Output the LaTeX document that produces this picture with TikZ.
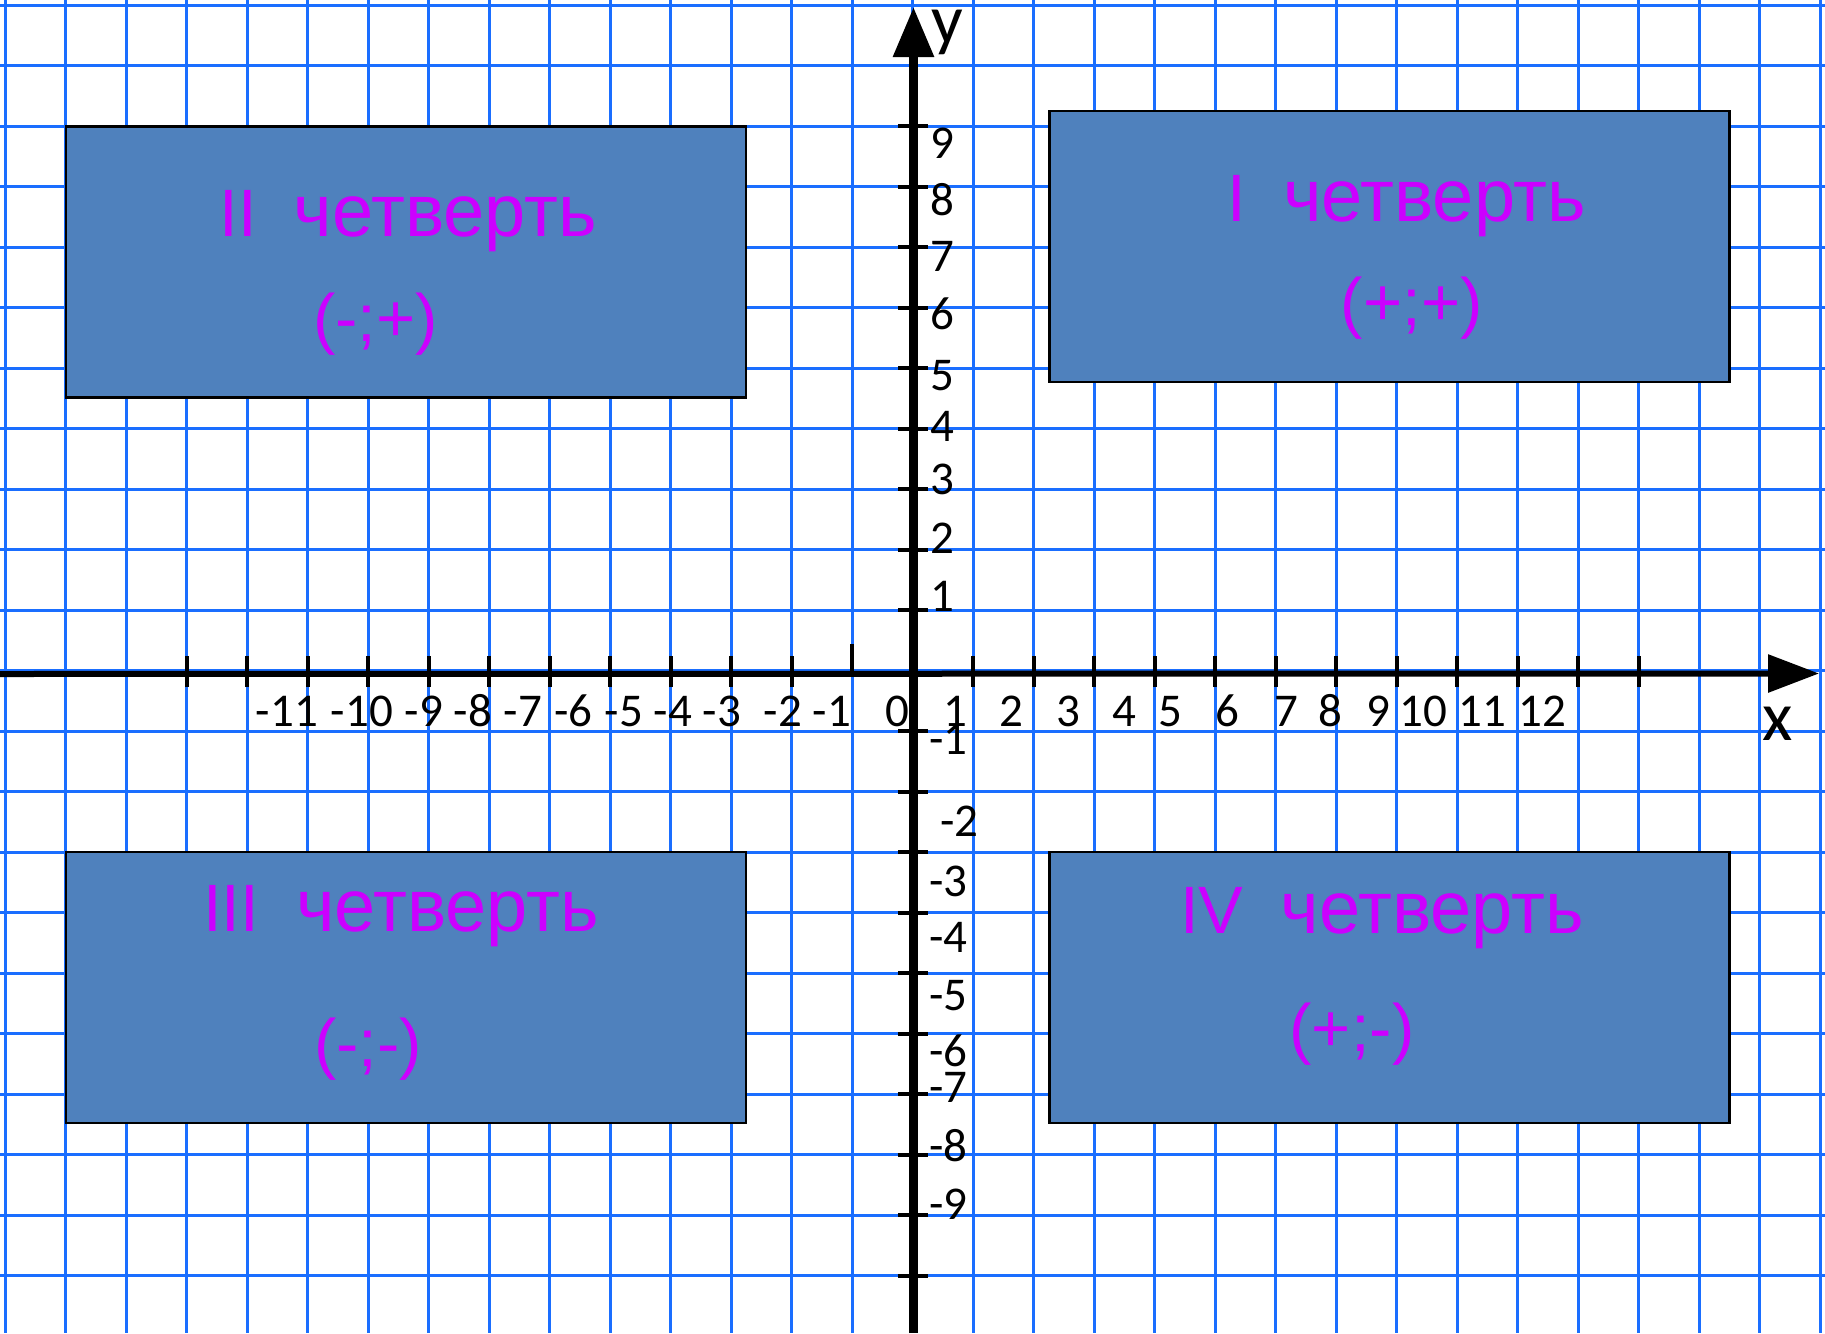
\documentclass[tikz,border=0pt]{standalone}
\usepackage{fontspec}
\usetikzlibrary{arrows.meta}
\newfontfamily\calib{Carlito}
\newfontfamily\arialf{Liberation Sans}
\definecolor{gridblue}{RGB}{26,110,255}
\definecolor{boxblue}{RGB}{79,129,189}
\definecolor{txtmag}{RGB}{204,0,255}
\newcommand{\qword}{{\fontsize{74}{80}\selectfont четверть}}
\tikzset{
  gridline/.style={draw=gridblue, line width=3pt},
  axisline/.style={draw=black, line width=6pt},
  tickline/.style={draw=black, line width=4pt},
  qbox/.style={draw=black, line width=2.5pt, fill=boxblue, minimum width=680pt, minimum height=271pt, inner sep=0pt, outer sep=0pt},
  qtitle/.style={anchor=base, text=txtmag, inner sep=0pt, font=\arialf\fontsize{67}{80}\selectfont},
  numlab/.style={inner sep=0pt, font=\calib\fontsize{47}{56}\selectfont},
  axlab/.style={anchor=base, inner sep=0pt, font=\calib\fontsize{70}{84}\selectfont}
}
\begin{document}
\begin{tikzpicture}[x=1pt,y=-1pt]
\fill[white] (0,0) rectangle (1825,1333);
\useasboundingbox (0,0) rectangle (1825,1333);
% grid
\foreach \k in {0,...,30} \draw[gridline] ({5+60.5*\k},0) -- ({5+60.5*\k},1333);
\foreach \k in {0,...,21} \draw[gridline] (0,{5+60.5*\k}) -- (1825,{5+60.5*\k});
% boxes
\node[qbox] (q2) at (406,262.2) {};
\node[qbox] (q1) at (1389.3,246.5) {};
\node[qbox] (q3) at (406,987.7) {};
\node[qbox] (q4) at (1389.3,987.7) {};
% box texts
\node[qtitle] (t2) at (408,236.7) {II~~\qword};
\node[qtitle] (s2) at (375.7,341) {(-;+)};
\node[qtitle] (t1) at (1406.7,221) {I~~\qword};
\node[qtitle] (s1) at (1411.7,325) {(+;+)};
\node[qtitle] (t3) at (401,931.7) {III~~\qword};
\node[qtitle] (s3) at (368.3,1066.7) {(-;-)};
\node[qtitle] (t4) at (1382,933) {IV~~\qword};
\node[qtitle] (s4) at (1352,1051) {(+;-)};
% axes
\coordinate (xs) at (0,674);
\coordinate (xtip) at (1819,673.5);
\coordinate (ys) at (913.5,1333);
\coordinate (ytip) at (913.5,7);
\draw[axisline, -{Triangle[length=51pt,width=37pt]}] (xs) -- (xtip);
\draw[axisline, line width=9pt, -{Triangle[length=50pt,width=39pt]}] (ys) -- (ytip);
% x ticks
\foreach \k in {3,...,13,16,17,...,27} \draw[tickline] ({5+60.5*\k},656) -- ({5+60.5*\k},687);
\draw[tickline] ({5+60.5*14},644) -- ({5+60.5*14},674);
% y ticks
\foreach \k in {2,...,10,12,13,...,21} \draw[tickline] (898,{5+60.5*\k}) -- (928,{5+60.5*\k});
% x labels
\foreach \v/\xx in {-11/287,-10/362,-9/424,-8/473,-7/523,-6/573.5,-5/624,-4/673,-3/722,-2/783,-1/832,0/897,1/955,2/1011,3/1068,4/1124,5/1170,6/1227.5,7/1286,8/1330,9/1378,10/1423,11/1482.6,12/1542}
  \node[numlab, anchor=base] (xl\v) at (\xx,726) {\v};
% y labels
\foreach \v/\yy in {9/158,8/215,7/271,6/329,5/390,4/441,3/494.5,2/553,1/611}
  \node[numlab, anchor=base west] (yl\v) at (930,\yy) {\v};
\foreach \v/\yy in {1/754,3/896,4/952.7,5/1010,6/1066,7/1102.7,8/1161,9/1219}
  \node[numlab, anchor=base west] (ylm\v) at (929,\yy) {-\v};
\node[numlab, anchor=base west] (ylm2) at (940,836.7) {-2};
% axis names
\node[axlab] (xname) at (1778,740) {x};
\node[axlab] (yname) at (947,43) {y};
\end{tikzpicture}
\end{document}
